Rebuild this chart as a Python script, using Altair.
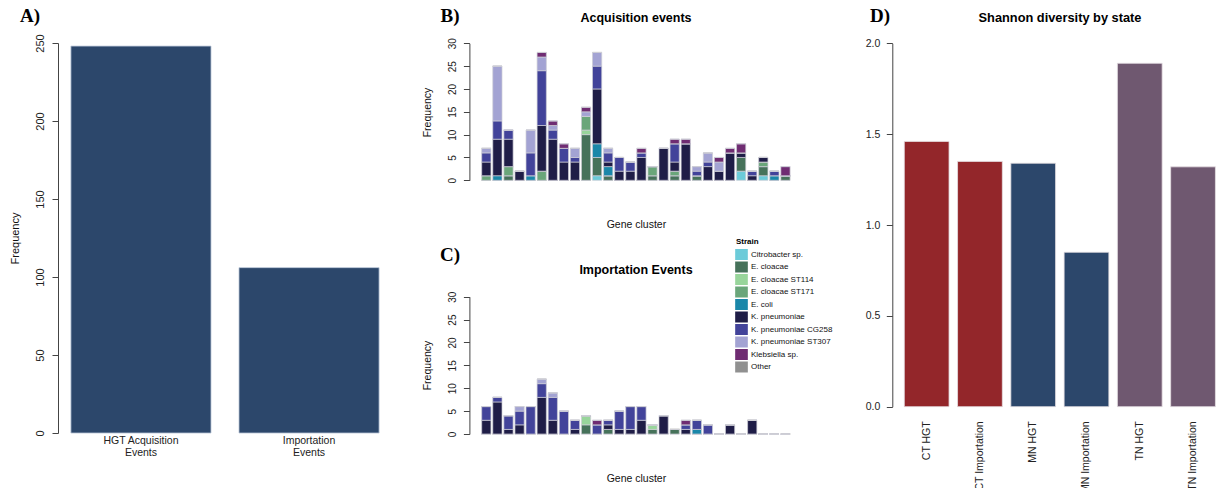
import altair as alt
import pandas as pd

FONT = "Liberation Sans"
SERIF = "Liberation Serif"

# ---------------- Panel A ----------------
EVENT_TYPES = ["HGT Acquisition Events", "Importation Events"]
EVENT_COUNTS = [248, 106]

# ---------------- Panels B / C ----------------
STRAINS = ["Citrobacter sp.", "E. cloacae", "E. cloacae ST114", "E. cloacae ST171", "E. coli",
           "K. pneumoniae", "K. pneumoniae CG258", "K. pneumoniae ST307", "Klebsiella sp.", "Other"]
STRAIN_COLORS = ["#6ccbd9", "#46725a", "#98d59b", "#6aa67a", "#1a87a9",
                 "#1f1d47", "#42439a", "#a3a3d3", "#6f2c72", "#909090"]
CLUSTERS = list(range(1, 29))

ACQ_CITRO = [0,0,0,0,0,0,0,0,0,0,1,0,0,0,0,0,0,0,0,0,0,0,0,2,0,1,0,0]
ACQ_ECL   = [0,0,1,0,0,0,0,0,0,10,4,1,0,0,0,1,0,1,0,1,0,0,0,3,0,2,0,1]
ACQ_ST114 = [0,0,0,0,0,0,0,0,0,1,0,0,0,0,0,0,0,0,0,0,0,0,0,0,0,0,0,0]
ACQ_ST171 = [1,0,2,0,0,2,0,0,0,3,0,0,0,0,0,2,0,1,0,0,0,0,0,0,0,1,0,0]
ACQ_ECOLI = [0,1,0,0,1,0,0,0,0,0,3,2,0,0,0,0,0,0,0,0,0,0,0,0,0,0,1,0]
ACQ_KPN   = [3,8,6,2,0,10,9,4,4,0,12,1,2,2,5,0,7,2,8,0,3,2,6,1,1,1,0,0]
ACQ_CG258 = [2,4,2,0,5,12,2,3,1,0,5,2,3,2,1,0,0,4,0,1,1,0,0,0,1,0,1,0]
ACQ_ST307 = [1,12,0,0,5,3,1,0,2,1,3,1,0,0,0,0,0,0,0,1,2,2,0,0,0,0,0,0]
ACQ_KLEB  = [0,0,0,0,0,1,1,1,0,1,0,0,0,0,1,0,0,1,1,0,0,1,1,2,0,0,0,2]
ACQ_OTHER = [0,0,0,0,0,0,0,0,0,0,0,0,0,0,0,0,0,0,0,0,0,0,0,0,0,0,0,0]

IMP_CITRO = [0,0,0,0,0,0,0,0,0,0,0,0,0,0,0,0,0,0,0,0,0,0,0,0,0,0,0,0]
IMP_ECL   = [0,0,0,0,0,0,0,0,0,2,0,1,0,0,0,1,0,1,0,0,0,0,0,0,0,0,0,0]
IMP_ST114 = [0,0,0,0,0,0,0,0,0,2,0,0,0,0,0,1,0,0,0,0,0,0,0,0,0,0,0,0]
IMP_ST171 = [0,0,0,0,0,0,0,0,0,0,0,0,0,0,0,0,0,0,0,0,0,0,0,0,0,0,0,0]
IMP_ECOLI = [0,0,0,0,0,0,0,0,0,0,0,0,0,0,0,0,0,0,0,1,0,0,0,0,0,0,0,0]
IMP_KPN   = [3,7,1,2,0,8,3,0,1,0,0,1,1,1,3,0,4,0,1,0,0,0,2,0,3,0,0,0]
IMP_CG258 = [3,1,3,3,6,3,5,5,2,0,2,1,4,5,3,0,0,0,1,2,2,0,0,0,0,0,0,0]
IMP_ST307 = [0,0,0,1,0,1,1,0,0,0,0,0,0,0,0,0,0,0,0,0,0,0,0,0,0,0,0,0]
IMP_KLEB  = [0,0,0,0,0,0,0,0,0,0,1,0,0,0,0,0,0,0,1,0,0,0,0,0,0,0,0,0]
IMP_OTHER = [0,0,0,0,0,0,0,0,0,0,0,0,0,0,0,0,0,0,0,0,0,0,0,0,0,0,0,0]

# ---------------- Panel D ----------------
STATE_GROUPS = ["CT HGT", "CT Importation", "MN HGT", "MN Importation", "TN HGT", "TN Importation"]
GROUP_STATES = ["CT", "CT", "MN", "MN", "TN", "TN"]
SHANNON = [1.46, 1.35, 1.34, 0.85, 1.89, 1.32]
STATE_NAMES = ["CT", "MN", "TN"]
STATE_COLORS = ["#93262a", "#2c476b", "#6f5870"]


def long_df(arrs):
    rows = []
    for si, (s, arr) in enumerate(zip(STRAINS, arrs)):
        for c, v in zip(CLUSTERS, arr):
            rows.append({"cluster": c, "strain": s, "n": v, "sidx": si})
    return pd.DataFrame(rows)


dfA = pd.DataFrame({"event": EVENT_TYPES, "count": EVENT_COUNTS})
dfB = long_df([ACQ_CITRO, ACQ_ECL, ACQ_ST114, ACQ_ST171, ACQ_ECOLI, ACQ_KPN,
               ACQ_CG258, ACQ_ST307, ACQ_KLEB, ACQ_OTHER])
dfC = long_df([IMP_CITRO, IMP_ECL, IMP_ST114, IMP_ST171, IMP_ECOLI, IMP_KPN,
               IMP_CG258, IMP_ST307, IMP_KLEB, IMP_OTHER])
dfD = pd.DataFrame({"group": STATE_GROUPS, "state": GROUP_STATES, "shannon": SHANNON})

AX = dict(grid=False, labelFont=FONT, titleFont=FONT, labelColor="#222222", titleColor="#111111",
          domainColor="#444444", tickColor="#444444", titleFontWeight="normal", labelOverlap=False)

# ---- A ----
a_bars = alt.Chart(dfA).mark_bar(color="#2c476b", stroke="#b8c4d6", strokeWidth=0.8).encode(
    x=alt.X("event:N", sort=EVENT_TYPES,
            scale=alt.Scale(range=[58.5, 391.5], paddingInner=0.1667, paddingOuter=0.074),
            axis=alt.Axis(orient="bottom", offset=-55, domain=False, ticks=False, labelAngle=0,
                          labelFontSize=10.5, labelPadding=2, labelBaseline="top", labelLineHeight=12.5,
                          labelExpr="[replace(datum.label, ' Events', ''), 'Events']", title=None, **AX)),
    y=alt.Y("count:Q", scale=alt.Scale(domain=[0, 250], range=[433, 43], nice=False),
            axis=alt.Axis(orient="left", offset=-58, values=[0, 50, 100, 150, 200, 250], tickSize=6,
                          labelAngle=270, labelAlign="center", labelBaseline="middle", labelPadding=12,
                          labelFontSize=11, title="Frequency", titleX=-43, titleY=238, titleAngle=270,
                          titleAlign="center", titleBaseline="middle", titleFontSize=11, **AX)),
)


# ---- B / C ----
def stacked(df, y0, y1, xoff, title_y, legend):
    return alt.Chart(df).mark_bar(stroke="#cdcdd5", strokeWidth=0.7).encode(
        x=alt.X("cluster:O",
                scale=alt.Scale(range=[480.6, 791.2], paddingInner=0.1667, paddingOuter=0.1),
                axis=alt.Axis(orient="bottom", offset=xoff, labels=False, ticks=False, domain=False,
                              title="Gene cluster", titleY=44, titleFontSize=10.5, titleBaseline="middle", **AX)),
        y=alt.Y("n:Q", stack="zero", scale=alt.Scale(domain=[0, 30], range=[y0, y1], nice=False),
                axis=alt.Axis(orient="left", offset=-469.4, values=[0, 5, 10, 15, 20, 25, 30], tickSize=6,
                              labelAngle=270, labelAlign="center", labelBaseline="middle", labelPadding=10.5,
                              labelFontSize=10, title="Frequency", titleX=-42.4, titleY=title_y, titleAngle=270,
                              titleAlign="center", titleBaseline="middle", titleFontSize=10.5, **AX)),
        color=alt.Color("strain:N", scale=alt.Scale(domain=STRAINS, range=STRAIN_COLORS), legend=legend),
        order=alt.Order("sidx:Q", sort="ascending"),
    )


strain_legend = alt.Legend(orient="none", legendX=736, legendY=238, title="Strain", titleFont=FONT,
                           titleFontSize=8, titleFontWeight="bold", titleColor="black", titlePadding=3,
                           labelFont=FONT, labelFontSize=8, labelColor="#111111", labelOffset=4,
                           symbolType="M-1.15,-1H1.15V1H-1.15Z", symbolSize=121, symbolStrokeWidth=0,
                           rowPadding=1.5, padding=0, labelLimit=200)

b_bars = stacked(dfB, 180.3, 43.3, -307.7, 112, strain_legend)
c_bars = stacked(dfC, 434, 296.7, -54, 365, None)

# ---- D ----
d_bars = alt.Chart(dfD).mark_bar(stroke="#e6dfe3", strokeWidth=0.8).encode(
    x=alt.X("group:N", sort=STATE_GROUPS,
            scale=alt.Scale(range=[892.3, 1227.4], paddingInner=0.16, paddingOuter=0.225),
            axis=alt.Axis(orient="bottom", offset=-80.7, domain=False, ticks=False, labelAngle=270,
                          labelAlign="right", labelBaseline="middle", labelPadding=13.5, labelFontSize=10.5,
                          title=None, **AX)),
    y=alt.Y("shannon:Q", scale=alt.Scale(domain=[0, 2], range=[406.7, 43.3], nice=False),
            axis=alt.Axis(orient="left", offset=-892.3, values=[0, 0.5, 1, 1.5, 2], format=".1f", tickSize=6,
                          labelAngle=0, labelAlign="right", labelBaseline="middle", labelPadding=6.5,
                          labelFontSize=10.5, title=None, **AX)),
    color=alt.Color("state:N", scale=alt.Scale(domain=STATE_NAMES, range=STATE_COLORS), legend=None),
)


def txt(s, x, y, size, font, weight="bold"):
    return alt.Chart(alt.Data(values=[{}])).mark_text(
        fontSize=size, font=font, fontWeight=weight, align="center", baseline="middle", color="black"
    ).encode(x=alt.value(x), y=alt.value(y), text=alt.value(s))


texts = [
    txt("A)", 30, 16, 19, SERIF),
    txt("B)", 450, 16, 19, SERIF),
    txt("C)", 450, 255, 19, SERIF),
    txt("D)", 880, 16, 19, SERIF),
    txt("Acquisition events", 636, 18, 12.5, FONT),
    txt("Importation Events", 636, 270, 12.5, FONT),
    txt("Shannon diversity by state", 1060, 18, 12.8, FONT),
]

chart = alt.layer(a_bars, b_bars, c_bars, d_bars, *texts).resolve_scale(
    x="independent", y="independent", color="independent"
).properties(
    width=1217, height=488, autosize=alt.AutoSizeParams(type="none"), padding=0, background="white"
).configure_view(strokeWidth=0)

chart.save("out.html", embed_options={"renderer": "svg", "actions": False})
